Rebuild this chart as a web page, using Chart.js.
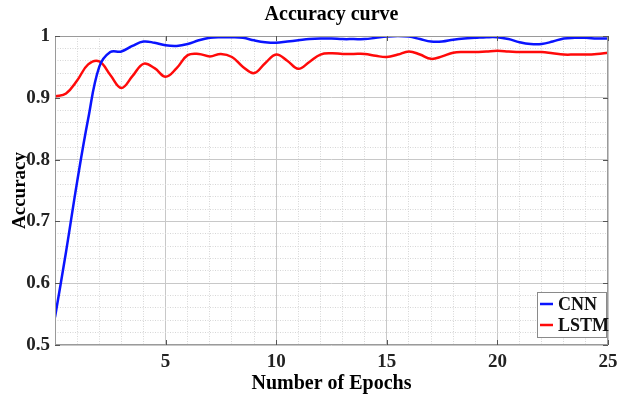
<!DOCTYPE html>
<html>
<head>
<meta charset="utf-8">
<script src="https://cdn.jsdelivr.net/npm/chart.js@4"></script>
<style>
  html, body { margin: 0; padding: 0; background: #fff; }
  #wrap { width: 617px; height: 397px; }
</style>
</head>
<body>
<div id="wrap"><canvas id="accChart" width="617" height="397"></canvas></div>
<script>
// epochs sampled every half epoch
const epochs = [0, 0.5, 1, 1.5, 2, 2.5, 3, 3.5, 4, 4.5, 5, 5.5, 6, 6.5, 7, 7.5, 8, 8.5, 9, 9.5,
  10, 10.5, 11, 11.5, 12, 12.5, 13, 13.5, 14, 14.5, 15, 15.5, 16, 16.5, 17, 17.5, 18, 18.5, 19, 19.5,
  20, 20.5, 21, 21.5, 22, 22.5, 23, 23.5, 24, 24.5, 25];

const cnnAcc = [0.545, 0.651, 0.764, 0.866, 0.950, 0.974, 0.975, 0.984, 0.991, 0.989,
  0.985, 0.984, 0.987, 0.993, 0.997, 0.998, 0.998, 0.997, 0.993, 0.990,
  0.989, 0.991, 0.993, 0.995, 0.996, 0.996, 0.995, 0.995, 0.995, 0.997,
  0.999, 1.000, 0.999, 0.995, 0.991, 0.991, 0.994, 0.996, 0.997, 0.998,
  0.998, 0.995, 0.990, 0.987, 0.987, 0.991, 0.996, 0.997, 0.997, 0.996, 0.996];

const lstmAcc = [0.902, 0.907, 0.928, 0.954, 0.959, 0.937, 0.916, 0.935, 0.955, 0.948,
  0.934, 0.948, 0.969, 0.971, 0.967, 0.971, 0.966, 0.950, 0.940, 0.956,
  0.970, 0.960, 0.947, 0.958, 0.970, 0.972, 0.971, 0.971, 0.971, 0.968,
  0.966, 0.970, 0.975, 0.970, 0.963, 0.967, 0.973, 0.974, 0.974, 0.975,
  0.976, 0.975, 0.974, 0.974, 0.974, 0.972, 0.970, 0.970, 0.970, 0.971, 0.973];

const xTickLabels = [5, 10, 15, 20, 25];
const yTickLabels = [0.5, 0.6, 0.7, 0.8, 0.9, 1];

const serif = "'Liberation Serif', 'DejaVu Serif', serif";

function puntos(ys) {
  return epochs.map((e, i) => ({ x: e, y: ys[i] }));
}

function esMayorY(v) {
  return yTickLabels.some(t => Math.abs(t - v) < 1e-6);
}
function esMayorX(v) {
  return v % 5 === 0;
}

// caja del area de trazado + marcas hacia dentro, estilo MATLAB
const cajaPlugin = {
  id: "caja",
  afterDatasetsDraw(chart) {
    const { ctx, chartArea: a, scales } = chart;
    ctx.save();
    ctx.strokeStyle = "#9a9a9a";
    ctx.lineWidth = 1;
    ctx.strokeRect(a.left + 0.5, a.top + 0.5, a.right - a.left - 1, a.bottom - a.top - 1);
    ctx.strokeStyle = "#555";
    ctx.beginPath();
    xTickLabels.forEach(v => {
      const px = Math.round(scales.x.getPixelForValue(v)) + 0.5;
      ctx.moveTo(px, a.bottom); ctx.lineTo(px, a.bottom - 5);
      ctx.moveTo(px, a.top); ctx.lineTo(px, a.top + 5);
    });
    yTickLabels.forEach(v => {
      const py = Math.round(scales.y.getPixelForValue(v)) + 0.5;
      ctx.moveTo(a.left, py); ctx.lineTo(a.left + 5, py);
      ctx.moveTo(a.right, py); ctx.lineTo(a.right - 5, py);
    });
    ctx.stroke();
    ctx.restore();
  }
};

// leyenda dentro del grafico, abajo a la derecha
const leyendaPlugin = {
  id: "leyenda",
  afterDraw(chart) {
    const { ctx, chartArea: a } = chart;
    const w = 69, h = 45;
    const x0 = a.right - w - 2, y0 = a.bottom - h - 8;
    ctx.save();
    ctx.fillStyle = "#fff";
    ctx.fillRect(x0, y0, w, h);
    ctx.strokeStyle = "#8a8a8a";
    ctx.lineWidth = 1;
    ctx.strokeRect(x0 + 0.5, y0 + 0.5, w, h);
    ctx.font = "bold 18px " + serif;
    ctx.textBaseline = "middle";
    chart.data.datasets.forEach((ds, i) => {
      const cy = y0 + 12 + i * 21;
      ctx.strokeStyle = ds.borderColor;
      ctx.lineWidth = 2.5;
      ctx.beginPath();
      ctx.moveTo(x0 + 3, cy); ctx.lineTo(x0 + 16, cy);
      ctx.stroke();
      ctx.fillStyle = "#111";
      ctx.fillText(ds.label, x0 + 21, cy + 1);
    });
    ctx.restore();
  }
};

const canvas = document.getElementById("accChart");
new Chart(canvas.getContext("2d"), {
  type: "line",
  data: {
    datasets: [
      {
        label: "CNN",
        data: puntos(cnnAcc),
        borderColor: "#0a14ff",
        borderWidth: 2.5,
        pointRadius: 0,
        tension: 0.4,
        fill: false
      },
      {
        label: "LSTM",
        data: puntos(lstmAcc),
        borderColor: "#ff0a0a",
        borderWidth: 2.5,
        pointRadius: 0,
        tension: 0.4,
        fill: false
      }
    ]
  },
  options: {
    responsive: false,
    animation: false,
    layout: { padding: { left: 0, right: 9, top: 0, bottom: 0 } },
    plugins: {
      legend: { display: false },
      tooltip: { enabled: false },
      title: {
        display: true,
        fullSize: false,
        text: "Accuracy curve",
        color: "#000",
        font: { family: serif, size: 20, weight: "bold" },
        padding: { top: 3, bottom: 9 }
      }
    },
    scales: {
      x: {
        type: "linear",
        min: 0,
        max: 25,
        ticks: {
          stepSize: 1,
          autoSkip: false,
          maxRotation: 0,
          padding: 6,
          color: "#222",
          font: { family: serif, size: 19, weight: "bold" },
          callback: v => (xTickLabels.includes(v) ? String(v) : "")
        },
        grid: {
          drawTicks: false,
          color: c => (c.tick && esMayorX(c.tick.value) ? "#c8c8c8" : "#d6d6d6"),
          lineWidth: 1
        },
        border: {
          display: false,
          dash: c => (c.tick && esMayorX(c.tick.value) ? [] : [1, 1.5])
        },
        title: {
          display: true,
          text: "Number of Epochs",
          color: "#000",
          font: { family: serif, size: 20, weight: "bold" },
          padding: { top: 0, bottom: 1 }
        },
        afterFit: s => { s.height = 52; s.paddingRight = 0; s.paddingLeft = 0; }
      },
      y: {
        min: 0.5,
        max: 1,
        ticks: {
          stepSize: 0.02,
          autoSkip: false,
          padding: 5,
          color: "#222",
          font: { family: serif, size: 19, weight: "bold" },
          callback: v => {
            if (!esMayorY(v)) return "";
            return Math.abs(v - 1) < 1e-6 ? "1" : v.toFixed(1);
          }
        },
        grid: {
          drawTicks: false,
          color: c => (c.tick && esMayorY(c.tick.value) ? "#c8c8c8" : "#d6d6d6"),
          lineWidth: 1
        },
        border: {
          display: false,
          dash: c => (c.tick && esMayorY(c.tick.value) ? [] : [1, 1.5])
        },
        title: {
          display: true,
          text: "Accuracy",
          color: "#000",
          font: { family: serif, size: 19, weight: "bold" },
          padding: { top: 9, bottom: 0 }
        },
        afterFit: s => { s.width = 55; }
      }
    }
  },
  plugins: [cajaPlugin, leyendaPlugin]
});
</script>
</body>
</html>
